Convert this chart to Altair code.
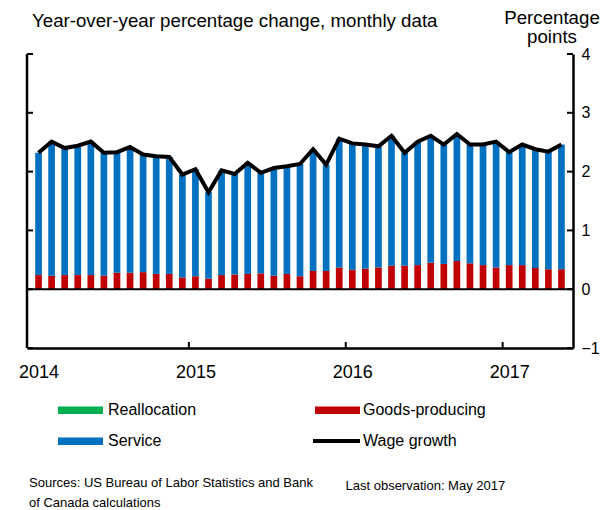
import altair as alt
import pandas as pd

# ---- data ----
months = [f"{y}-{m:02d}" for y in range(2014, 2018) for m in range(1, 13)][:41]

wage = [2.32, 2.51, 2.40, 2.44, 2.51, 2.32, 2.33, 2.42, 2.29, 2.26, 2.25, 1.95,
        2.04, 1.65, 2.02, 1.96, 2.15, 1.98, 2.06, 2.09, 2.13, 2.38, 2.12, 2.56,
        2.48, 2.46, 2.43, 2.61, 2.32, 2.51, 2.61, 2.46, 2.64, 2.46, 2.46, 2.51,
        2.33, 2.46, 2.38, 2.34, 2.46]

goods = [0.24, 0.23, 0.24, 0.24, 0.24, 0.23, 0.28, 0.28, 0.29, 0.26, 0.26, 0.20,
         0.22, 0.18, 0.24, 0.25, 0.26, 0.27, 0.23, 0.26, 0.22, 0.31, 0.31, 0.37,
         0.33, 0.35, 0.37, 0.40, 0.40, 0.41, 0.45, 0.43, 0.48, 0.44, 0.41, 0.37,
         0.41, 0.41, 0.36, 0.34, 0.34]

service = [2.08, 2.28, 2.16, 2.20, 2.27, 2.09, 2.05, 2.14, 2.00, 2.00, 1.99, 1.75,
           1.82, 1.47, 1.78, 1.71, 1.89, 1.71, 1.83, 1.83, 1.91, 2.07, 1.81, 2.19,
           2.15, 2.11, 2.06, 2.21, 1.92, 2.10, 2.16, 2.03, 2.16, 2.02, 2.05, 2.14,
           1.92, 2.05, 2.02, 2.00, 2.12]

series_names = ["Goods-producing", "Service"]
series_colors = ["#C00000", "#0070C0"]
year_ticks = [12, 24, 36]
y_ticks = [-1, 0, 1, 2, 3, 4]

# ---- tables ----
pos = [i + 0.5 for i in range(len(months))]
df = pd.DataFrame({"month": months, "pos": pos, "Goods-producing": goods,
                   "Service": service, "wage": wage})
long = df.melt(id_vars=["month", "pos"], value_vars=series_names,
               var_name="series", value_name="value")
long["ord"] = long["series"].map({n: i for i, n in enumerate(series_names)})

W, H = 546, 294
FONT = "Liberation Sans"
xs = alt.Scale(domain=[0, 41], nice=False, zero=False)
ys = alt.Scale(domain=[-1, 4], nice=False, zero=False)

bars = alt.Chart(long).mark_bar(size=6.7).encode(
    x=alt.X("pos:Q", scale=xs, title=None,
            axis=alt.Axis(values=[0.5, 12.5, 24.5, 36.5],
                          labelExpr="toString(2014 + floor(datum.value / 12))",
                          ticks=False, labelPadding=15, labelAlign="center",
                          labelFontSize=18)),
    y=alt.Y("value:Q", stack="zero", scale=ys, title=None,
            axis=alt.Axis(orient="right", values=y_ticks, format="d", ticks=False,
                          labelPadding=8, labelAlign="left", labelBaseline="middle",
                          labelFontSize=16)),
    color=alt.Color("series:N", scale=alt.Scale(domain=series_names, range=series_colors),
                    legend=None),
    order=alt.Order("ord:Q"),
)

line = alt.Chart(df).mark_line(color="black", strokeWidth=4).encode(
    x=alt.X("pos:Q", scale=xs, title=None),
    y=alt.Y("wage:Q", scale=ys, title=None),
)

zero = alt.Chart(pd.DataFrame({"v": [0]})).mark_rule(color="black", strokeWidth=2).encode(
    y=alt.Y("v:Q", scale=ys, title=None))

left_axis = alt.Chart(pd.DataFrame({"a": [0]})).mark_rule(color="black", strokeWidth=2.5).encode(
    x=alt.value(0), y=alt.value(0), y2=alt.value(H))

ytk = pd.DataFrame({"t": y_ticks})
left_ticks = alt.Chart(ytk).mark_rule(color="black", strokeWidth=2).encode(
    x=alt.value(0), x2=alt.value(6), y=alt.Y("t:Q", scale=ys, title=None))
right_ticks = alt.Chart(ytk).mark_rule(color="black", strokeWidth=2).encode(
    x=alt.value(W - 6), x2=alt.value(W), y=alt.Y("t:Q", scale=ys, title=None))
x_ticks = alt.Chart(pd.DataFrame({"t": year_ticks})).mark_rule(color="black", strokeWidth=2).encode(
    x=alt.X("t:Q", scale=xs, title=None), y=alt.value(H - 6), y2=alt.value(H))


def text(t, x, y, align="left", font=FONT, size=16, baseline="alphabetic"):
    return alt.Chart(pd.DataFrame({"t": [t]})).mark_text(
        align=align, baseline=baseline, font=font, fontSize=size, color="black"
    ).encode(x=alt.value(x), y=alt.value(y), text="t:N")


title = text("Year-over-year percentage change, monthly data", 5, -27.3, size=18.7)
rt1 = text("Percentage", 525, -30.5, align="center", size=18.7)
rt2 = text("points", 525, -10.7, align="center", size=18.7)

# legend
def swatch(x0, x1, y0, y1, color):
    return alt.Chart(pd.DataFrame({"a": [0]})).mark_rect(color=color).encode(
        x=alt.value(x0), x2=alt.value(x1), y=alt.value(y0), y2=alt.value(y1))

leg = [
    swatch(31, 76, 352.5, 360, "#00B050"),
    text("Reallocation", 81, 356, baseline="middle"),
    swatch(288, 333, 352.5, 360, "#C00000"),
    text("Goods-producing", 336, 356, baseline="middle"),
    swatch(31, 76, 383.5, 391, "#0070C0"),
    text("Service", 81, 387, baseline="middle"),
    alt.Chart(pd.DataFrame({"a": [0]})).mark_rule(color="black", strokeWidth=4).encode(
        x=alt.value(286), x2=alt.value(333), y=alt.value(387)),
    text("Wage growth", 336, 387, baseline="middle"),
]

foot = [
    text("Sources: US Bureau of Labor Statistics and Bank", 2, 432.5, size=13),
    text("of Canada calculations", 2, 453, size=13),
    text("Last observation: May 2017", 318.5, 436, size=13),
]

chart = alt.layer(
    bars, line, zero, left_axis, left_ticks, right_ticks, x_ticks,
    title, rt1, rt2, *leg, *foot
).properties(
    width=W, height=H,
    padding={"left": 19, "top": 46, "right": 27, "bottom": 162},
    autosize=alt.AutoSizeParams(type="none"),
).configure_view(stroke=None).configure_axis(
    domainColor="black", domainWidth=2.5, labelColor="black", labelFont=FONT,
    grid=False,
)

chart.save("out.html", embed_options={"renderer": "svg", "actions": False})
